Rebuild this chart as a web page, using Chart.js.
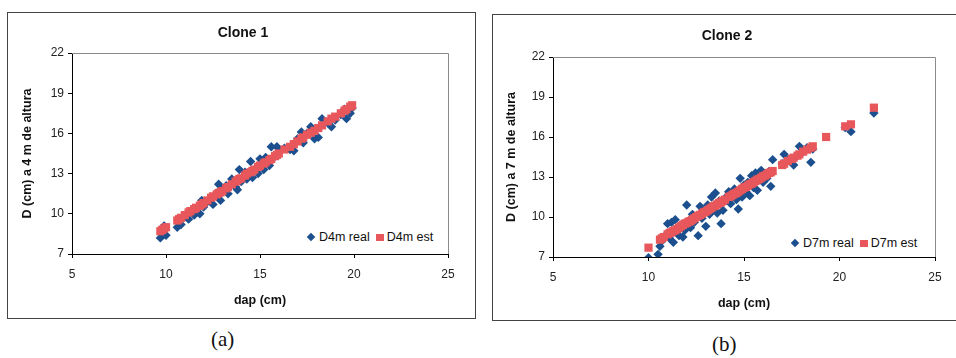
<!DOCTYPE html>
<html>
<head>
<meta charset="utf-8">
<script src="https://cdn.jsdelivr.net/npm/chart.js@4.4.0/dist/chart.umd.min.js"></script>
<style>
  html, body { margin:0; padding:0; background:#fff; }
  body { width:956px; height:358px; position:relative; overflow:hidden; font-family:"Liberation Sans", Arial, sans-serif; }
  .frame { position:absolute; border:1px solid #444; box-sizing:border-box; }
  .wrap { position:absolute; }
  .cap { position:absolute; font-family:"Liberation Serif", "Times New Roman", serif; font-size:21px; color:#111; }
  .ttl { position:absolute; font-size:14px; font-weight:bold; color:#111; transform:translateX(-50%); white-space:nowrap; }
  .leg { position:absolute; font-size:12.5px; color:#111; display:flex; align-items:center; white-space:nowrap; background:#fff; padding:0 2px; }
  .dia { display:inline-block; width:6px; height:6px; background:#1b4f8e; transform:rotate(45deg); margin-right:5px; }
  .sq { display:inline-block; width:8px; height:7px; background:#e8575b; margin-right:3px; margin-left:6px; }
</style>
</head>
<body>
<div class="frame" style="left:7px;top:12px;width:469px;height:307px;"></div>
<div class="frame" style="left:492px;top:14px;width:470px;height:307px;"></div>
<div class="wrap" style="left:8px;top:13px;width:466px;height:305px;"><canvas id="c1" width="466" height="305"></canvas></div>
<div class="wrap" style="left:493px;top:15px;width:463px;height:305px;"><canvas id="c2" width="463" height="305"></canvas></div>
<div class="ttl" id="t1" style="left:243px;top:24px;"></div>
<div class="ttl" id="t2" style="left:727px;top:27px;"></div>
<div class="leg" id="l1" style="left:306px;top:230px;"></div>
<div class="leg" id="l2" style="left:790px;top:236px;"></div>
<div class="cap" style="left:211px;top:327px;">(a)</div>
<div class="cap" style="left:712px;top:332px;">(b)</div>
<script>
// ---- Clone 1 data ----
const c1RealX = [9.7,9.8,9.9,10.0,10.6,10.7,10.8,11.0,11.2,11.3,11.5,11.6,11.8,11.9,12.0,12.2,12.4,12.5,12.7,12.8,12.9,13.0,13.2,13.3,13.5,13.7,13.8,13.9,14.0,14.2,14.3,14.5,14.6,14.7,14.9,15.0,15.2,15.3,15.5,15.6,15.8,15.9,16.0,16.3,16.6,16.8,17.0,17.2,17.3,17.5,17.7,17.9,18.1,18.3,18.6,18.8,19.0,19.3,19.5,19.6,19.8,19.9];
const c1RealY = [8.2,8.5,9.1,8.4,9.0,9.4,9.2,9.8,9.6,10.2,9.9,10.4,10.0,11.0,10.5,10.9,11.2,10.7,11.3,12.2,11.0,11.9,12.1,11.5,12.6,12.0,11.8,13.3,12.4,13.1,12.6,13.9,12.7,13.3,13.0,14.1,13.3,14.2,13.6,15.0,14.3,15.0,14.6,14.9,14.8,14.7,15.6,16.1,15.3,16.0,16.5,15.6,15.7,17.1,16.8,16.5,17.0,17.4,17.8,17.1,17.5,17.9];
const c1EstX = [9.7,9.8,9.9,10.0,10.6,10.7,10.8,11.0,11.2,11.3,11.5,11.6,11.8,11.9,12.0,12.2,12.4,12.5,12.7,12.8,12.9,13.0,13.2,13.3,13.5,13.7,13.8,13.9,14.0,14.2,14.3,14.5,14.6,14.7,14.9,15.0,15.2,15.3,15.5,15.6,15.8,15.9,16.0,16.3,16.6,16.8,17.0,17.2,17.3,17.5,17.7,17.9,18.1,18.3,18.6,18.8,19.0,19.3,19.5,19.6,19.8,19.9];
const c1EstY = [8.7,8.8,8.9,9.0,9.5,9.6,9.7,9.9,10.1,10.2,10.35,10.45,10.6,10.7,10.8,11.0,11.2,11.3,11.45,11.55,11.6,11.7,11.9,12.0,12.2,12.4,12.5,12.6,12.65,12.85,13.0,13.1,13.2,13.3,13.5,13.6,13.75,13.85,14.0,14.1,14.3,14.4,14.5,14.8,15.0,15.2,15.4,15.6,15.7,15.9,16.05,16.2,16.4,16.6,16.9,17.1,17.25,17.5,17.7,17.8,18.0,18.1];

// ---- Clone 2 data ----
const c2RealX = [10.0,10.5,10.6,10.7,10.8,11.0,11.1,11.2,11.3,11.4,11.5,11.6,11.7,11.8,11.9,12.0,12.1,12.2,12.3,12.4,12.5,12.6,12.7,12.8,12.9,13.0,13.1,13.2,13.3,13.4,13.5,13.6,13.7,13.8,13.9,14.0,14.2,14.3,14.4,14.5,14.6,14.7,14.8,14.9,15.0,15.1,15.2,15.3,15.4,15.5,15.6,15.7,15.8,15.9,16.0,16.1,16.2,16.3,16.4,16.5,17.0,17.1,17.3,17.5,17.6,17.8,17.9,18.1,18.3,18.5,18.6,20.3,20.6,21.8];
const c2RealY = [6.95,7.2,7.8,8.2,8.5,9.5,8.4,9.6,8.1,9.8,8.9,8.6,9.4,8.5,9.0,10.9,9.7,9.2,10.2,9.6,10.0,8.6,10.8,9.9,10.4,9.3,10.9,10.2,11.5,10.6,11.8,10.3,11.2,9.5,10.5,11.4,11.9,11.0,11.6,12.1,11.3,10.6,12.9,11.5,12.4,11.9,12.6,11.6,13.1,12.2,13.3,12.0,12.8,13.5,12.6,13.2,12.9,13.4,12.3,14.3,14.0,14.7,14.3,14.1,13.9,14.6,15.3,14.9,15.2,14.1,15.1,16.7,16.4,17.8];
const c2EstX = [10.0,10.6,10.7,10.8,11.0,11.1,11.2,11.3,11.4,11.5,11.6,11.7,11.8,11.9,12.0,12.1,12.2,12.3,12.4,12.5,12.6,12.7,12.8,12.9,13.0,13.1,13.2,13.3,13.4,13.5,13.6,13.7,13.8,13.9,14.0,14.2,14.3,14.4,14.5,14.6,14.7,14.8,14.9,15.0,15.1,15.2,15.3,15.4,15.5,15.6,15.7,15.8,15.9,16.0,16.1,16.2,16.3,16.4,16.5,17.0,17.1,17.3,17.5,17.6,17.8,17.9,18.1,18.3,18.5,18.6,19.3,20.3,20.6,21.8];
const c2EstY = [7.7,8.3,8.4,8.5,8.7,8.8,8.85,8.95,9.0,9.1,9.2,9.3,9.4,9.5,9.55,9.65,9.7,9.8,9.9,10.0,10.1,10.15,10.25,10.35,10.4,10.5,10.6,10.7,10.8,10.85,10.95,11.05,11.1,11.2,11.3,11.5,11.55,11.65,11.75,11.8,11.9,12.0,12.1,12.2,12.25,12.35,12.45,12.5,12.6,12.7,12.8,12.85,12.95,13.05,13.1,13.2,13.3,13.35,13.45,13.9,14.0,14.2,14.35,14.45,14.6,14.7,14.9,15.05,15.2,15.3,16.0,16.8,16.95,18.2];

// ---- axis ticks / labels ----
const xMin = 5, xMax = 25, xStep = 5;
const yMin = 7, yMax = 22, yStep = 3;
const titles = ["Clone 1", "Clone 2"];
const yTitles = ["D (cm) a 4 m de altura", "D (cm) a 7 m de altura"];
const xTitle = "dap (cm)";
const seriesNames = [["D4m real", "D4m est"], ["D7m real", "D7m est"]];

const FONT = '"Liberation Sans", Arial, sans-serif';
const BLUE = '#1b4f8e', RED = '#e8575b';

function zip(xs, ys) { return xs.map((x, i) => ({x: x, y: ys[i]})); }

const plotBorder = {
  id: 'plotBorder',
  beforeDatasetsDraw(chart) {
    const a = chart.chartArea, ctx = chart.ctx;
    ctx.save();
    ctx.strokeStyle = '#8a8a8a';
    ctx.lineWidth = 1;
    ctx.beginPath();
    ctx.moveTo(a.left, a.top + 0.5); ctx.lineTo(a.right + 0.5, a.top + 0.5); ctx.lineTo(a.right + 0.5, a.bottom);
    ctx.stroke();
    ctx.restore();
  }
};

function buildLegend(id, chart) {
  const el = document.getElementById(id);
  chart.data.datasets.forEach((ds, i) => {
    const m = document.createElement('span');
    m.className = i === 0 ? 'dia' : 'sq';
    el.appendChild(m);
    el.appendChild(document.createTextNode(ds.label));
  });
}

function makeChart(id, idx, realX, realY, estX, estY, cfg) {
  document.getElementById(cfg.titleId).textContent = titles[idx];
  const chart = new Chart(document.getElementById(id), {
    type: 'scatter',
    data: {
      datasets: [
        { label: seriesNames[idx][0], data: zip(realX, realY), pointStyle: 'rectRot', pointRadius: 4.7,
          backgroundColor: BLUE, borderColor: BLUE, borderWidth: 0, order: 2 },
        { label: seriesNames[idx][1], data: zip(estX, estY), pointStyle: 'rect', pointRadius: 5.8,
          backgroundColor: RED, borderColor: RED, borderWidth: 0, order: 1 }
      ]
    },
    options: {
      responsive: false,
      animation: false,
      events: [],
      layout: { padding: { left: 0, right: cfg.right, top: cfg.top, bottom: 0 } },
      plugins: {
        legend: { display: false },
        tooltip: { enabled: false },
        title: { display: false }
      },
      scales: {
        x: {
          type: 'linear', min: xMin, max: xMax,
          ticks: { stepSize: xStep, color: '#222', font: { family: FONT, size: 12 }, padding: 9, maxRotation: 0 },
          grid: { drawOnChartArea: false, drawTicks: true, tickLength: 4, color: '#000' },
          border: { color: '#000', width: 1 },
          title: { display: true, text: xTitle, color: '#111', font: { family: FONT, size: 12.5, weight: 'bold' }, padding: { top: 2, bottom: cfg.xtPad } },
          afterFit(s) { s.height = cfg.xH; }
        },
        y: {
          type: 'linear', min: yMin, max: yMax,
          ticks: { stepSize: yStep, color: '#222', font: { family: FONT, size: 12 }, padding: 4 },
          grid: { drawOnChartArea: false, drawTicks: true, tickLength: 4, color: '#000' },
          border: { color: '#000', width: 1 },
          title: { display: true, text: yTitles[idx], color: '#111', font: { family: FONT, size: 12.5, weight: 'bold' }, padding: { top: cfg.ytPad, bottom: 2 } },
          afterFit(s) { s.width = cfg.yW; }
        }
      }
    },
    plugins: [plotBorder]
  });
  buildLegend(cfg.legendId, chart);
  return chart;
}

makeChart('c1', 0, c1RealX, c1RealY, c1EstX, c1EstY, { right: 26, top: 40, xH: 64, yW: 64, xtPad: 10, ytPad: 12, titleId: 't1', legendId: 'l1' });
makeChart('c2', 1, c2RealX, c2RealY, c2EstX, c2EstY, { right: 21, top: 42, xH: 63, yW: 60, xtPad: 9, ytPad: 11, titleId: 't2', legendId: 'l2' });
</script>
</body>
</html>
